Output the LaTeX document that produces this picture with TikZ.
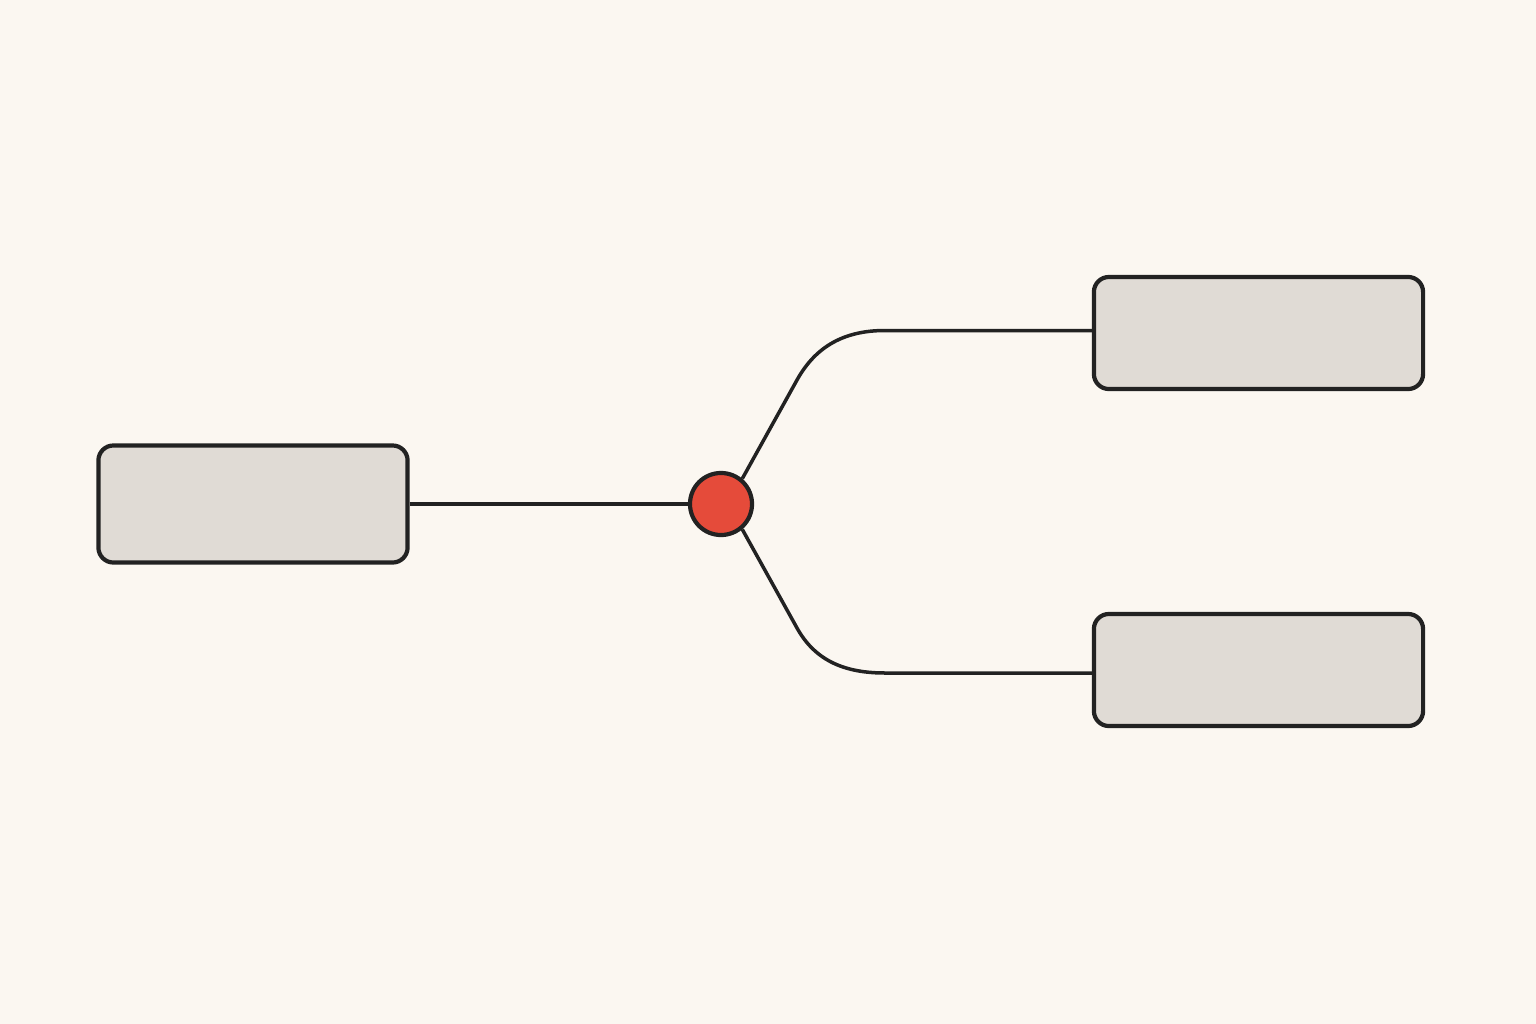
\documentclass[tikz,border=0pt]{standalone}
\definecolor{paper}{HTML}{FBF7F1}
\definecolor{boxgray}{HTML}{E0DBD5}
\definecolor{hubred}{HTML}{E54B3A}
\definecolor{ink}{HTML}{222222}
\begin{document}
\begin{tikzpicture}[x=0.01cm,y=-0.01cm,
	box/.style={draw=ink,fill=boxgray,line width=0.042cm,rounded corners=0.15cm},
	hub/.style={circle,draw=ink,fill=hubred,line width=0.042cm,minimum size=0.62cm,inner sep=0pt},
	wire/.style={draw=ink,line width=0.035cm}]
	\fill[paper] (0,0) rectangle (1536,1024);
	\useasboundingbox (0,0) rectangle (1536,1024);
	
	\node[box,minimum width=3.09cm,minimum height=1.17cm] (source) at (253,504) {};
	\node[box,minimum width=3.29cm,minimum height=1.12cm] (top) at (1258.5,333) {};
	\node[box,minimum width=3.29cm,minimum height=1.12cm] (bottom) at (1258.5,670) {};
	\node[hub] (split) at (721,504) {};
	
	\coordinate (bendtop) at (797,380);
	\coordinate (elbowtop) at (885,330.5);
	\coordinate (bendbottom) at (797,628);
	\coordinate (elbowbottom) at (885,673);
	
	\draw[wire] (source.east) -- (split.west);
	\draw[wire] (split.50) -- (bendtop) to[out=61,in=180] (elbowtop) -- (elbowtop -| top.west);
	\draw[wire] (split.-50) -- (bendbottom) to[out=-61,in=180] (elbowbottom) -- (elbowbottom -| bottom.west);
	
\end{tikzpicture}
\end{document}
